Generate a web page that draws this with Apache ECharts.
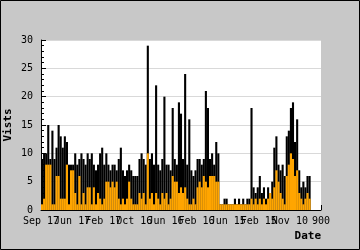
<!DOCTYPE html>
<html><head><meta charset="utf-8">
<script src="https://cdn.jsdelivr.net/npm/echarts@6/dist/echarts.min.js"></script>
<style>html,body{margin:0;padding:0;background:#c8c8c8;}#c{width:360px;height:250px;}</style>
</head><body><div id="c"></div>
<script>
const xLabels = ["Sep 17","Jun 17","Feb 17","Oct 16","Jun 16","Feb 16","Jun 15","Feb 15","Nov 10","900"];
const yTicks = [0,5,10,15,20,25,30];
const visitsHigh = [9,10,10,15,9,14,9,11,15,13,11,13,12,8,8,8,10,8,9,10,9,8,10,9,10,8,7,8,10,11,8,10,8,7,8,8,7,9,11,7,6,7,8,7,6,6,6,9,10,9,8,29,9,10,8,22,8,7,9,20,8,8,7,18,9,8,19,17,9,24,8,16,7,6,7,9,9,8,9,21,18,9,10,8,12,10,1,1,2,2,1,1,1,2,1,2,1,2,1,2,2,18,4,3,4,6,3,4,2,4,3,5,11,13,8,7,8,6,13,14,18,19,12,16,7,4,5,4,6,6];
const visitsLow = [1,2,8,8,8,1,1,6,6,2,2,2,8,1,7,7,3,1,6,1,3,1,4,4,1,4,1,3,2,1,2,5,5,4,5,4,5,2,1,2,1,2,5,2,1,1,1,3,2,3,1,10,2,3,1,3,2,1,3,2,3,1,2,6,5,5,3,4,3,4,2,1,1,2,1,4,5,4,6,5,4,6,6,6,5,5,1,1,1,1,1,1,1,1,1,1,1,1,1,1,1,2,1,2,1,2,1,2,1,2,3,2,4,7,5,3,2,1,6,8,10,9,6,7,3,2,1,2,3,2];
const xMax = 135;
const chart = echarts.init(document.getElementById('c'), null, {renderer:'canvas'});
const font = '"DejaVu Sans Mono", monospace';
chart.setOption({
  backgroundColor:'#c8c8c8',
  animation:false,
  grid:{left:41,right:39,top:40,bottom:40,show:true,backgroundColor:'#fff',borderWidth:0,containLabel:false,outerBoundsMode:'none'},
  graphic:[{type:'rect',silent:true,shape:{x:0.5,y:0.5,width:359,height:249},style:{fill:'none',stroke:'#000',lineWidth:1}}],
  xAxis:[{type:'value',min:0,max:xMax,interval:15,position:'bottom',
    axisLine:{show:true,lineStyle:{color:'#000',width:1}},
    axisTick:{show:true,inside:true,length:5,lineStyle:{color:'#000'}},
    splitLine:{show:false},
    axisLabel:{show:false}
  },{type:'category',data:xLabels,boundaryGap:false,position:'bottom',
    name:'Date',nameLocation:'end',nameGap:0,nameMoveOverlap:false,
    nameTextStyle:{fontFamily:font,fontWeight:'bold',fontSize:11,color:'#000',align:'right',verticalAlign:'top',padding:[21,0,0,0]},
    axisLine:{show:false},axisTick:{show:false},splitLine:{show:false},
    axisLabel:{interval:0,fontFamily:font,fontSize:10,color:'#000',margin:6,hideOverlap:false}
  }],
  yAxis:{type:'value',min:0,max:30,interval:5,
    name:'Vists',nameLocation:'middle',nameGap:27,nameMoveOverlap:false,
    nameTextStyle:{fontFamily:font,fontWeight:'bold',fontSize:11,color:'#000'},
    axisLine:{show:true,lineStyle:{color:'#000',width:1}},
    axisTick:{show:true,inside:true,length:5,lineStyle:{color:'#000'}},
    minorTick:{show:true,splitNumber:5,length:3,lineStyle:{color:'#000'}},
    splitLine:{show:true,lineStyle:{color:'#d9d9d9',width:1}},
    axisLabel:{fontFamily:font,fontSize:10,color:'#000',margin:8,formatter:v=>yTicks.includes(v)?String(v):''}
  },
  series:[
    {type:'bar',xAxisIndex:0,barWidth:2.1,barGap:'-100%',itemStyle:{color:'#000'},
     data:visitsHigh.map((v,i)=>[i+0.5,v])},
    {type:'bar',xAxisIndex:0,barWidth:2.1,barGap:'-100%',itemStyle:{color:'#ffa500'},
     data:visitsLow.map((v,i)=>[i+0.5,v])}
  ]
});
</script></body></html>
